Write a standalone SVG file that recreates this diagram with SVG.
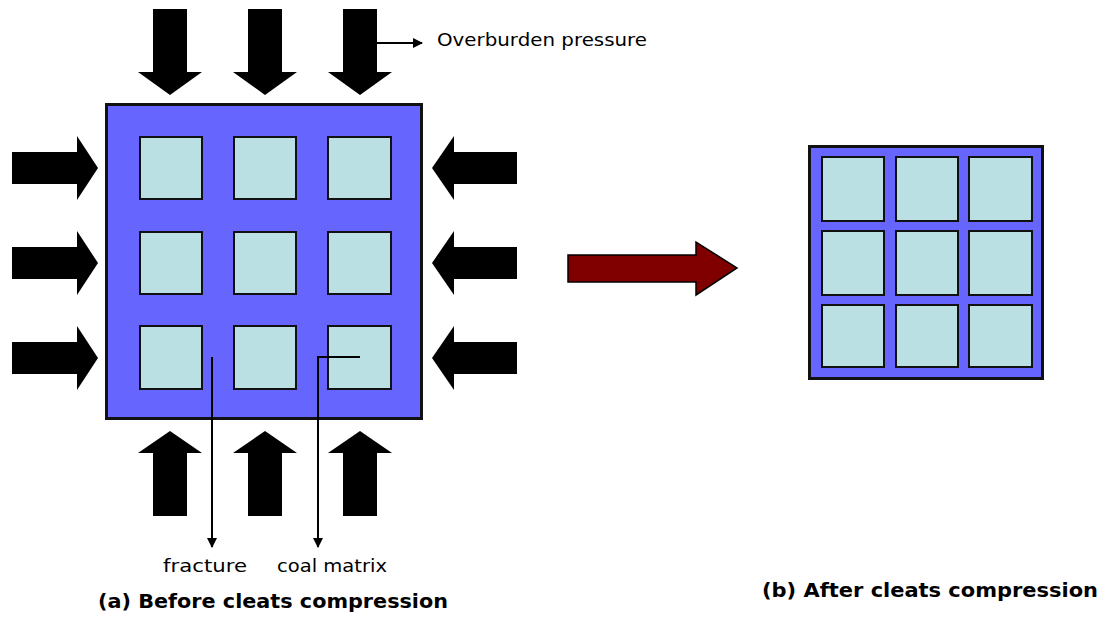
<svg xmlns="http://www.w3.org/2000/svg" width="1105" height="617" viewBox="0 0 1105 617">
<style>
.frame{fill:#6666FF;stroke:#111;stroke-width:3}
.cell{fill:#BBE0E3;stroke:#111;stroke-width:2}
.force{fill:#000}
.lead{fill:none;stroke:#000;stroke-width:2}
.lbl{font-family:"DejaVu Sans","Liberation Sans",sans-serif;font-size:18px;fill:#000}
.cap{font-family:"DejaVu Sans","Liberation Sans",sans-serif;font-size:20px;font-weight:bold;fill:#000}
</style>
<defs>
<marker id="ah" viewBox="0 0 10 10" refX="9" refY="5" markerWidth="5" markerHeight="5" orient="auto" markerUnits="strokeWidth">
<path d="M0,0 L10,5 L0,10 z" fill="#000"/>
</marker>
</defs>
<rect width="1105" height="617" fill="#fff"/>

<g id="before">
<rect class="frame" x="106.5" y="104.5" width="315" height="314"/>
<rect class="cell" x="140" y="137" width="62" height="62"/>
<rect class="cell" x="234" y="137" width="62" height="62"/>
<rect class="cell" x="328" y="137" width="63" height="62"/>
<rect class="cell" x="140" y="232" width="62" height="62"/>
<rect class="cell" x="234" y="232" width="62" height="62"/>
<rect class="cell" x="328" y="232" width="63" height="62"/>
<rect class="cell" x="140" y="326" width="62" height="63"/>
<rect class="cell" x="234" y="326" width="62" height="63"/>
<rect class="cell" x="328" y="326" width="63" height="63"/>
</g>

<g id="forces-top">
<polygon class="force" points="153,9 187,9 187,72 202,72 170,95 138,72 153,72"/>
<polygon class="force" points="248,9 282,9 282,72 297,72 265,95 233,72 248,72"/>
<polygon class="force" points="343,9 377,9 377,72 392,72 360,95 328,72 343,72"/>
</g>
<g id="forces-bottom">
<polygon class="force" points="170,431 202,453 187,453 187,516 153,516 153,453 138,453"/>
<polygon class="force" points="265,431 297,453 282,453 282,516 248,516 248,453 233,453"/>
<polygon class="force" points="360,431 392,453 377,453 377,516 343,516 343,453 328,453"/>
</g>
<g id="forces-left">
<polygon class="force" points="12,152 77,152 77,136 98,168 77,200 77,184 12,184"/>
<polygon class="force" points="12,247 77,247 77,231 98,263 77,295 77,279 12,279"/>
<polygon class="force" points="12,342 77,342 77,326 98,358 77,390 77,374 12,374"/>
</g>
<g id="forces-right">
<polygon class="force" points="432,168 454,136 454,152 517,152 517,184 454,184 454,200"/>
<polygon class="force" points="432,263 454,231 454,247 517,247 517,279 454,279 454,295"/>
<polygon class="force" points="432,358 454,326 454,342 517,342 517,374 454,374 454,390"/>
</g>

<g id="transition">
<polygon points="568,255 696,255 696,242 737,268 696,295 696,282 568,282" fill="#800000" stroke="#000" stroke-width="1.5"/>
</g>

<g id="after">
<rect class="frame" x="809.5" y="146.5" width="233" height="232"/>
<rect class="cell" x="822" y="157" width="62" height="64"/>
<rect class="cell" x="896" y="157" width="62" height="64"/>
<rect class="cell" x="969" y="157" width="63" height="64"/>
<rect class="cell" x="822" y="231" width="62" height="64"/>
<rect class="cell" x="896" y="231" width="62" height="64"/>
<rect class="cell" x="969" y="231" width="63" height="64"/>
<rect class="cell" x="822" y="305" width="62" height="62"/>
<rect class="cell" x="896" y="305" width="62" height="62"/>
<rect class="cell" x="969" y="305" width="63" height="62"/>
</g>

<g id="connectors">
<line class="lead" x1="377" y1="43" x2="422" y2="43" marker-end="url(#ah)"/>
<line class="lead" x1="212" y1="357" x2="212" y2="547" marker-end="url(#ah)"/>
<polyline class="lead" points="360,357 318,357 318,547" marker-end="url(#ah)"/>
</g>

<g id="labels">
<text class="lbl" x="437" y="46" textLength="210" lengthAdjust="spacingAndGlyphs">Overburden pressure</text>
<text class="lbl" x="163" y="572" textLength="84" lengthAdjust="spacingAndGlyphs">fracture</text>
<text class="lbl" x="277" y="572" textLength="110" lengthAdjust="spacingAndGlyphs">coal matrix</text>
<text class="cap" x="98" y="608" textLength="350" lengthAdjust="spacingAndGlyphs">(a) Before cleats compression</text>
<text class="cap" x="762" y="597" textLength="336" lengthAdjust="spacingAndGlyphs">(b) After cleats compression</text>
</g>
</svg>
